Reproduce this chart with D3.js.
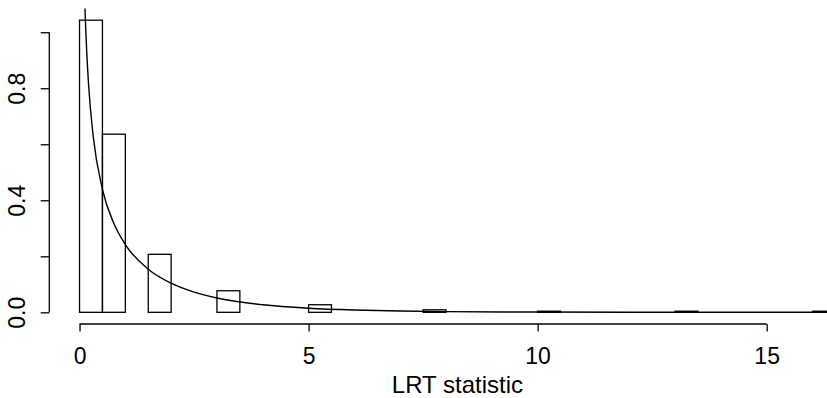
<!DOCTYPE html>
<head>
  <meta charset="utf-8">
  <script src="https://d3js.org/d3.v7.min.js"></script>
  <style>
    body { margin:0; padding:0; background:#fff; }
    svg { display:block; font-family:"Liberation Sans", Arial, sans-serif; }
    .bar { fill:none; stroke:#000; stroke-width:1.3px; }
    .dens { fill:none; stroke:#000; stroke-width:1.4px; }
    .axis line, .axis path { stroke:#000; stroke-width:1.3px; }
    .axis text { font-size:23px; fill:#000; }
  </style>
</head>

<body>
  <script>
    var width = 827, height = 398;

    // histogram: bin breaks (width 0.5) and density of each bin
    var breakStart = 0, binWidth = 0.5;
    var densities = [1.043, 0.636, 0, 0.207, 0, 0, 0.077, 0, 0, 0,
                     0.027, 0, 0, 0, 0, 0.009, 0, 0, 0, 0,
                     0.004, 0, 0, 0, 0, 0, 0.004, 0, 0, 0,
                     0, 0, 0.004];

    // overlaid density curve
    var curveX = [0.05, 0.1, 0.15, 0.2, 0.3, 0.5, 0.75, 1, 1.5, 2, 2.5, 3, 4, 5, 6, 7, 8, 10, 12, 14, 17];
    var curveY = [1.74, 1.2, 0.956, 0.807, 0.627, 0.439, 0.317, 0.242, 0.154, 0.104, 0.072, 0.051,
                  0.027, 0.0146, 0.0081, 0.0046, 0.0026, 0.0009, 0.0003, 0.0001, 0.00002];

    var xTicks = [0, 5, 10, 15];
    var yTicks = [0, 0.2, 0.4, 0.6, 0.8, 1.0];
    var yLabelled = [0, 0.4, 0.8];
    var xTitle = "LRT statistic";

    var svg = d3.select("body").append("svg")
      .attr("width", width)
      .attr("height", height);

    svg.append("rect").attr("width", width).attr("height", height).attr("fill", "#fff");

    // plot region like R: limits padded 4% each side
    var xMaxBreak = breakStart + densities.length * binWidth;
    var xPad = 0.04 * (xMaxBreak - breakStart);
    var yMax = d3.max(densities), yPad = 0.04 * yMax;
    var plot = {left:49.3, right:865.6, top:8.5, bottom:324};

    var x = d3.scaleLinear().domain([breakStart - xPad, xMaxBreak + xPad]).range([plot.left, plot.right]);
    var y = d3.scaleLinear().domain([-yPad, yMax + yPad]).range([plot.bottom, plot.top]);

    svg.append("clipPath").attr("id", "clip")
      .append("rect")
      .attr("x", plot.left).attr("y", plot.top)
      .attr("width", plot.right - plot.left).attr("height", plot.bottom - plot.top);

    // bars (zero height bins still drawn, as in R)
    svg.append("g").selectAll("rect")
      .data(densities)
      .enter().append("rect")
      .attr("class", "bar")
      .attr("x", function(d, i) { return x(breakStart + i * binWidth); })
      .attr("width", x(binWidth) - x(0))
      .attr("y", function(d) { return y(d); })
      .attr("height", function(d) { return y(0) - y(d); });

    var pts = curveX.map(function(v, i) { return [v, curveY[i]]; });
    var line = d3.line()
      .x(function(d) { return x(d[0]); })
      .y(function(d) { return y(d[1]); })
      .curve(d3.curveMonotoneX);

    svg.append("path")
      .datum(pts)
      .attr("class", "dens")
      .attr("clip-path", "url(#clip)")
      .attr("d", line);

    // x axis
    var gx = svg.append("g").attr("class", "axis")
      .attr("transform", "translate(0," + plot.bottom + ")")
      .call(d3.axisBottom(x).tickValues(xTicks).tickSize(7.5).tickPadding(16).tickSizeOuter(0));
    gx.select(".domain").remove();
    gx.append("line")
      .attr("x1", x(xTicks[0])).attr("x2", x(xTicks[xTicks.length - 1]));
    gx.selectAll(".tick text").attr("dy", null).attr("y", 40);

    // y axis
    var gy = svg.append("g").attr("class", "axis")
      .attr("transform", "translate(" + plot.left + ",0)")
      .call(d3.axisLeft(y).tickValues(yTicks).tickSize(8.6).tickSizeOuter(0)
        .tickFormat(function(d) {
          return yLabelled.some(function(v) { return Math.abs(v - d) < 1e-9; }) ? d3.format(".1f")(d) : "";
        }));
    gy.select(".domain").remove();
    gy.append("line")
      .attr("y1", y(yTicks[0])).attr("y2", y(yTicks[yTicks.length - 1]));
    gy.selectAll(".tick text")
      .attr("x", null).attr("dy", null)
      .attr("text-anchor", "middle")
      .attr("transform", "translate(-24,0) rotate(-90)");

    svg.append("text")
      .attr("x", (plot.left + plot.right) / 2)
      .attr("y", 393)
      .attr("text-anchor", "middle")
      .attr("font-size", "24px")
      .text(xTitle);
  </script>
</body>
